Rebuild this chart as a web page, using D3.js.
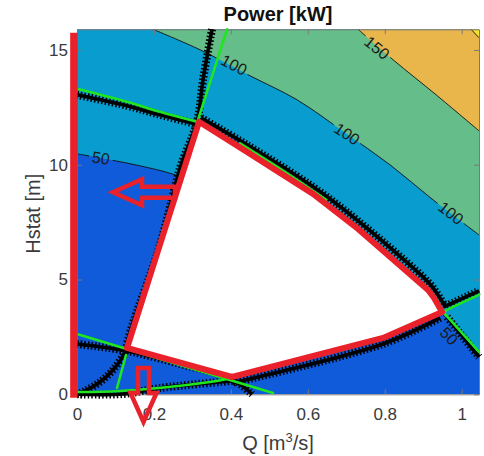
<!DOCTYPE html>
<html>
<head>
<meta charset="utf-8">
<script src="https://cdn.jsdelivr.net/npm/d3@7"></script>
<style>
  body { margin: 0; background: #fff; }
  text { font-family: "Liberation Sans", Arial, Helvetica, sans-serif; }
</style>
</head>
<body>
<svg id="chart" width="484" height="456"></svg>
<script>
// ---- axes -------------------------------------------------------------
const xTicks = [0, 0.2, 0.4, 0.6, 0.8, 1];
const yTicks = [0, 5, 10, 15];
const xDomain = [0, 1.045];
const yDomain = [0, 15.9];

// ---- power map: iso-power lines [Q, Hstat] ------------------------------
const levels = [50, 100, 150, 200];
// fill below the first level, then above each level
const levelColors = ["#0f5bd9", "#089ccf", "#65bd89", "#e9b64c", "#f2e42a"];
const contour50 = [[0, 10.475], [0.0858, 10.214], [0.1638, 9.952], [0.2548, 9.560], [0.4498, 8.252],
                   [0.6578, 6.508], [0.8398, 4.765], [0.9490, 3.500], [0.9958, 2.629], [1.045, 1.713]];
const contour100 = [[0.1976, 15.9], [0.3198, 15.009], [0.4498, 13.875], [0.5720, 12.829],
                    [0.6968, 11.391], [0.8138, 9.996], [0.9256, 8.470], [1.045, 6.944]];
const contour150 = [[0.7306, 15.9], [0.8216, 14.573], [0.9334, 13.047], [1.045, 11.478]];
const contour200 = [[1.0244, 15.9], [1.045, 15.532]];
const contourLines = [contour50, contour100, contour150, contour200];

// in-line level labels: value, position, text angle (deg)
const labelText  = ["50", "100", "100", "100", "150", "50"];
const labelQ     = [0.0624, 0.4082, 0.7020, 0.9724, 0.7800, 0.9672];
const labelH     = [10.301, 14.355, 11.347, 7.903, 15.096, 2.541];
const labelAngle = [9, 27, 34, 38, 39, 46];

// ---- operating limits -------------------------------------------------
// limit curves, traced as rows of cross markers
const crossLines = [
  [[0, 13.047], [0.13, 12.568], [0.2158, 12.175], [0.3068, 11.783]],
  [[0.3510, 15.9], [0.3276, 13.701], [0.3120, 11.870], [0.2704, 9.996], [0.2574, 9.211],
   [0.2119, 6.290], [0.1482, 3.239], [0.1326, 2.367], [0.1248, 1.844], [0.0936, 1.059],
   [0.0598, 0.536], [0.0208, 0.144], [0, 0.013]],
  [[0, 2.193], [0.13, 1.888], [0.2678, 1.321], [0.4030, 0.667], [0.4550, 0.0]],
  [[0, 0.0], [0.1196, 0.013], [0.2158, 0.275], [0.4030, 0.580]],
  [[0.3224, 12.044], [0.4420, 10.868], [0.6136, 9.037], [0.7306, 7.554], [0.9126, 4.895],
   [0.9334, 4.459], [0.9594, 3.762]],
  [[0.9438, 3.326], [0.7956, 2.193], [0.4030, 0.493]],
  [[0.9594, 3.849], [1.045, 4.503]],
  [[0.9620, 3.370], [1.045, 1.626]]
];
// fitted limit lines
const greenLines = [
  [[0, 13.309], [0.13, 12.742], [0.2158, 12.306], [0.3120, 11.870]],
  [[0.3900, 15.9], [0.3146, 11.957]],
  [[0.1274, 1.713], [0.1040, 0.275]],
  [[0, 2.629], [0.5096, 0.057]],
  [[0, 0.100], [0.1118, 0.144], [0.3458, 0.536], [0.4030, 0.711]],
  [[0.9516, 3.588], [0.9776, 3.806], [1.045, 4.329]],
  [[0.9516, 3.588], [1.045, 1.844]],
  [[0.4238, 10.929], [0.5538, 9.542], [0.6474, 8.470]]
];
// allowed operating range
const operatingRange = [[0.3172, 11.870], [0.4420, 10.562], [0.6136, 8.731], [0.7306, 7.206],
                        [0.9126, 4.547], [0.9282, 4.198], [0.9490, 3.588], [0.7956, 2.454],
                        [0.4030, 0.754], [0.1300, 2.018]];
const minFlowLine = [[-0.008, -0.15], [-0.008, 15.75]];
// direction arrows: tail -> tip
const arrowTails = [[0.2548, 8.80], [0.1729, 1.146]];
const arrowTips  = [[0.0936, 8.80], [0.1729, -1.208]];

// ---- drawing ------------------------------------------------------------
const svg = d3.select("#chart");
const plotL = 77, plotR = 479, plotT = 29.3, plotB = 394.3;
const x = d3.scaleLinear().domain(xDomain).range([plotL, plotR]);
const y = d3.scaleLinear().domain(yDomain).range([plotB, plotT]);
const px = p => [x(p[0]), y(p[1])];

svg.append("rect").attr("width", 484).attr("height", 456).attr("fill", "#fff");

const defs = svg.append("defs");
defs.append("clipPath").attr("id", "plotClip")
  .append("rect").attr("x", plotL).attr("y", plotT)
  .attr("width", plotR - plotL).attr("height", plotB - plotT);

const smooth = d3.line().x(d => x(d[0])).y(d => y(d[1])).curve(d3.curveCatmullRom.alpha(0.5));
const straight = d3.line().x(d => x(d[0])).y(d => y(d[1]));

// filled bands
const fills = svg.append("g").attr("clip-path", "url(#plotClip)");
fills.append("rect").attr("x", plotL).attr("y", plotT)
  .attr("width", plotR - plotL).attr("height", plotB - plotT)
  .attr("fill", levelColors[0]);
contourLines.forEach((c, i) => {
  let d = smooth(c);
  d += "L" + x(xDomain[1]) + "," + y(yDomain[1]);
  if (c[0][0] === xDomain[0]) d += "L" + x(xDomain[0]) + "," + y(yDomain[1]);
  d += "Z";
  fills.append("path").attr("d", d).attr("fill", levelColors[i + 1]);
});

// gaps in the level lines where the labels sit
const labelSize = 16;
const mask = defs.append("mask").attr("id", "labelGaps").attr("maskUnits", "userSpaceOnUse")
  .attr("x", 0).attr("y", 0).attr("width", 484).attr("height", 456);
mask.append("rect").attr("width", 484).attr("height", 456).attr("fill", "#fff");
labelText.forEach((t, i) => {
  const w = t.length * labelSize * 0.556 + 6;
  mask.append("rect")
    .attr("x", -w / 2).attr("y", -7).attr("width", w).attr("height", 14)
    .attr("fill", "#000")
    .attr("transform", `translate(${x(labelQ[i])},${y(labelH[i])}) rotate(${labelAngle[i]})`);
});

svg.append("g").attr("clip-path", "url(#plotClip)")
  .append("g").attr("mask", "url(#labelGaps)")
  .selectAll("path").data(contourLines).join("path")
  .attr("d", smooth).attr("fill", "none").attr("stroke", "#111").attr("stroke-width", 0.9);

svg.append("g").selectAll("text").data(labelText).join("text")
  .attr("transform", (d, i) => `translate(${x(labelQ[i])},${y(labelH[i])}) rotate(${labelAngle[i]})`)
  .attr("text-anchor", "middle").attr("dy", "0.36em")
  .attr("font-size", labelSize).attr("fill", "#1a1a1a")
  .text(d => d);

// axes (ticks inside, box on all sides)
const axisColor = "#7a7a7a";
function styleAxis(g) {
  g.select(".domain").attr("stroke", axisColor);
  g.selectAll(".tick line").attr("stroke", axisColor);
  g.selectAll(".tick text").attr("fill", "#3a3a3a").attr("font-size", 17)
    .attr("font-family", "'Liberation Sans', Arial, sans-serif");
}
svg.append("g").attr("transform", `translate(0,${plotB})`)
  .call(d3.axisBottom(x).tickValues(xTicks).tickSizeInner(-5).tickSizeOuter(0).tickPadding(14).tickFormat(d => String(d)))
  .call(styleAxis);
svg.append("g").attr("transform", `translate(0,${plotT})`)
  .call(d3.axisTop(x).tickValues(xTicks).tickSizeInner(-5).tickSizeOuter(0).tickFormat(""))
  .call(styleAxis);
svg.append("g").attr("transform", `translate(${plotL},0)`)
  .call(d3.axisLeft(y).tickValues(yTicks).tickSizeInner(-5).tickSizeOuter(0).tickPadding(9).tickFormat(d => String(d)))
  .call(styleAxis);
svg.append("g").attr("transform", `translate(${plotR},0)`)
  .call(d3.axisRight(y).tickValues(yTicks).tickSizeInner(-5).tickSizeOuter(0).tickFormat(""))
  .call(styleAxis);

// limit curves: dense cross markers (core + serrated edge)
const crossG = svg.append("g");
crossLines.forEach(c => {
  crossG.append("path").attr("d", smooth(c)).attr("fill", "none")
    .attr("stroke", "#000").attr("stroke-width", 3.6);
  crossG.append("path").attr("d", smooth(c)).attr("fill", "none")
    .attr("stroke", "#000").attr("stroke-width", 8).attr("stroke-dasharray", "1.5 2.1");
});

// fitted lines
svg.append("g").selectAll("path").data(greenLines).join("path")
  .attr("d", smooth).attr("fill", "none")
  .attr("stroke", "#1fe61f").attr("stroke-width", 2.6).attr("stroke-linecap", "round");

// operating range
svg.append("path").attr("d", straight(operatingRange) + "Z")
  .attr("fill", "#fff").attr("stroke", "#e8212b").attr("stroke-width", 6)
  .attr("stroke-linejoin", "round");

svg.append("path").attr("d", straight(minFlowLine))
  .attr("fill", "none").attr("stroke", "#e8212b").attr("stroke-width", 7.5);

// hollow arrows
function arrowPath(t, h) {
  const [x0, y0] = px(t), [x1, y1] = px(h);
  const len = Math.hypot(x1 - x0, y1 - y0);
  const ux = (x1 - x0) / len, uy = (y1 - y0) / len;
  const nx = -uy, ny = ux;
  const sw = 5.5, hw = 13, hl = 29;
  const bx = x1 - ux * hl, by = y1 - uy * hl;
  const pts = [
    [x0 + nx * sw, y0 + ny * sw], [bx + nx * sw, by + ny * sw], [bx + nx * hw, by + ny * hw],
    [x1, y1],
    [bx - nx * hw, by - ny * hw], [bx - nx * sw, by - ny * sw], [x0 - nx * sw, y0 - ny * sw]
  ];
  return "M" + pts.map(p => p.join(",")).join("L") + "Z";
}
svg.append("g").selectAll("path").data(arrowTails).join("path")
  .attr("d", (d, i) => arrowPath(d, arrowTips[i]))
  .attr("fill", "none").attr("stroke", "#e8212b").attr("stroke-width", 4.5)
  .attr("stroke-linejoin", "miter");

// titles
svg.append("text").attr("x", (plotL + plotR) / 2).attr("y", 21)
  .attr("text-anchor", "middle").attr("font-size", 20).attr("font-weight", "bold")
  .attr("fill", "#111").text("Power [kW]");

const xl = svg.append("text").attr("x", (plotL + plotR) / 2).attr("y", 450)
  .attr("text-anchor", "middle").attr("font-size", 20).attr("fill", "#3a3a3a");
xl.append("tspan").text("Q [m");
xl.append("tspan").attr("dy", -8).attr("font-size", 13).text("3");
xl.append("tspan").attr("dy", 8).text("/s]");

svg.append("text").attr("transform", `translate(40,${(plotT + plotB) / 2 + 2}) rotate(-90)`)
  .attr("text-anchor", "middle").attr("font-size", 20).attr("fill", "#3a3a3a")
  .text("Hstat [m]");
</script>
</body>
</html>
